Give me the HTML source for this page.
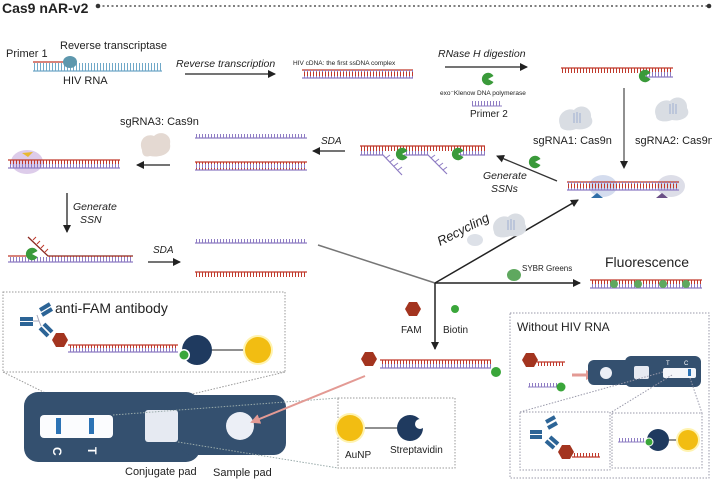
<!DOCTYPE html>
<html><head><meta charset="utf-8"><style>
html,body{margin:0;padding:0;background:#fff;}
svg{display:block;font-family:"Liberation Sans",sans-serif;}
</style></head><body>
<svg width="712" height="481" viewBox="0 0 712 481" xmlns="http://www.w3.org/2000/svg">
<defs>
<pattern id="tk" width="3" height="8" patternUnits="userSpaceOnUse">
<rect x="1" y="0" width="1" height="4" fill="#c0392b"/><rect x="1" y="4" width="1" height="4" fill="#8e7cc3"/>
</pattern>
<pattern id="tp" width="3" height="5" patternUnits="userSpaceOnUse"><rect x="1" y="0" width="1" height="5" fill="#8e7cc3"/></pattern>
<pattern id="tr" width="3" height="5" patternUnits="userSpaceOnUse"><rect x="1" y="0" width="1" height="5" fill="#c0392b"/></pattern>
<pattern id="tb" width="3" height="8" patternUnits="userSpaceOnUse"><rect x="1" y="0" width="1" height="8" fill="#6fa8c8"/></pattern>
<g id="pac"><path d="M0,0 L5.5,-3 A6.2,6.2 0 1 0 5.5,3 Z" fill="#3a9a3a"/></g>
<g id="hex"><polygon points="-8,0 -4,-7 4,-7 8,0 4,7 -4,7" fill="#a3341f"/></g>
<g id="blob"><path d="M-16,6 C-20,-4 -10,-12 -2,-9 C4,-16 16,-12 15,-2 C20,6 10,12 0,10 C-8,13 -16,11 -16,6Z" fill="#d9dde3"/><path d="M-2,-6 v10 M1,-7 v11 M4,-6 v10" stroke="#9fb0d0" stroke-width="1"/></g>
<marker id="ar" markerWidth="8" markerHeight="8" refX="7" refY="4" orient="auto" markerUnits="userSpaceOnUse"><path d="M0,0 L8,4 L0,8Z" fill="#222"/></marker>
<marker id="arp" markerWidth="10" markerHeight="10" refX="8" refY="5" orient="auto" markerUnits="userSpaceOnUse"><path d="M0,0 L10,5 L0,10Z" fill="#e39a94"/></marker>
</defs>

<!-- title -->
<text x="2" y="13" font-size="14" font-weight="bold" fill="#222">Cas9 nAR-v2</text>
<line x1="98" y1="6" x2="708" y2="6" stroke="#333" stroke-width="1.3" stroke-dasharray="2,2.5"/>
<circle cx="98" cy="6" r="2.3" fill="#333"/><circle cx="709" cy="6" r="2.3" fill="#333"/>

<!-- row 1 -->
<text x="6" y="57" font-size="11" fill="#222">Primer 1</text>
<text x="60" y="49" font-size="11" fill="#222">Reverse transcriptase</text>
<line x1="33" y1="62" x2="65" y2="62" stroke="#c0392b" stroke-width="1.3"/>
<rect x="33" y="63" width="129" height="8" fill="url(#tb)"/>
<line x1="33" y1="71" x2="162" y2="71" stroke="#6fa8c8" stroke-width="1.3"/>
<ellipse cx="70" cy="62" rx="7" ry="6" fill="#5d97ad"/>
<text x="63" y="84" font-size="11" fill="#222">HIV RNA</text>
<text x="176" y="67" font-size="10.5" font-style="italic" fill="#222">Reverse transcription</text>
<line x1="185" y1="74" x2="275" y2="74" stroke="#222" stroke-width="1.3" marker-end="url(#ar)"/>
<text x="293" y="65" font-size="6.5" fill="#222">HIV cDNA: the first ssDNA complex</text>
<g><line x1="302" y1="70" x2="413" y2="70" stroke="#c0392b" stroke-width="1.2"/><rect x="302" y="70" width="111" height="8" fill="url(#tk)"/><line x1="302" y1="78" x2="413" y2="78" stroke="#8e7cc3" stroke-width="1.2"/></g>
<text x="438" y="57" font-size="10.5" font-style="italic" fill="#222">RNase H digestion</text>
<line x1="445" y1="67" x2="527" y2="67" stroke="#222" stroke-width="1.3" marker-end="url(#ar)"/>
<use href="#pac" x="488" y="79"/>
<text x="440" y="95" font-size="6.5" fill="#222">exo⁻Klenow DNA polymerase</text>
<rect x="472" y="101" width="30" height="5" fill="url(#tp)"/><line x1="472" y1="106" x2="502" y2="106" stroke="#8e7cc3"/>
<text x="470" y="117" font-size="10" fill="#222">Primer 2</text>
<line x1="561" y1="68" x2="673" y2="68" stroke="#c0392b" stroke-width="1.2"/><rect x="561" y="68" width="112" height="5" fill="url(#tr)"/>
<rect x="640" y="72" width="33" height="5" fill="url(#tp)"/><line x1="640" y1="77" x2="673" y2="77" stroke="#8e7cc3" stroke-width="1.2"/>
<use href="#pac" x="645" y="76"/>
<line x1="624" y1="88" x2="624" y2="168" stroke="#222" stroke-width="1" marker-end="url(#ar)"/>
<use href="#blob" x="576" y="119"/><use href="#blob" x="672" y="110"/>
<text x="533" y="144" font-size="11" fill="#222">sgRNA1: Cas9n</text>
<text x="635" y="144" font-size="11" fill="#222">sgRNA2: Cas9n</text>

<!-- bound dsDNA right -->
<ellipse cx="603" cy="186" rx="14" ry="11" fill="#c9d3ea" opacity=".8"/><ellipse cx="671" cy="186" rx="14" ry="11" fill="#d4d6e2" opacity=".8"/>
<line x1="567" y1="182" x2="679" y2="182" stroke="#c0392b" stroke-width="1.2"/><rect x="567" y="182" width="112" height="8" fill="url(#tk)"/><line x1="567" y1="190" x2="679" y2="190" stroke="#8e7cc3" stroke-width="1.2"/>
<polygon points="591,198 597,193 603,198" fill="#2f6fa8"/><polygon points="656,198 662,193 668,198" fill="#6a4f86"/>
<line x1="557" y1="181" x2="497" y2="156" stroke="#333" stroke-width="1.3" marker-end="url(#ar)"/>
<text x="483" y="179" font-size="10.5" font-style="italic" fill="#222">Generate</text>
<text x="491" y="192" font-size="10.5" font-style="italic" fill="#222">SSNs</text>
<use href="#pac" x="535" y="162"/>

<!-- nicked DNA -->
<line x1="360" y1="146" x2="485" y2="146" stroke="#c0392b" stroke-width="1.2"/><rect x="360" y="146" width="125" height="5" fill="url(#tr)"/>
<rect x="360" y="151" width="23" height="4" fill="url(#tp)"/><rect x="404" y="151" width="24" height="4" fill="url(#tp)"/><rect x="460" y="151" width="25" height="4" fill="url(#tp)"/>
<path d="M360,155 H383 L402,175 M404,155 H428 L447,174 M460,155 H485" stroke="#8e7cc3" stroke-width="1.2" fill="none"/>
<path d="M386,158 l4,-3 M390,162 l4,-3 M394,166 l4,-3 M398,170 l4,-3 M431,158 l4,-3 M435,162 l4,-3 M439,166 l4,-3 M443,170 l4,-3" stroke="#8e7cc3"/>
<use href="#pac" x="402" y="154"/><use href="#pac" x="458" y="154"/>
<text x="321" y="144" font-size="10" font-style="italic" fill="#222">SDA</text>
<line x1="345" y1="151" x2="313" y2="151" stroke="#222" stroke-width="1.3" marker-end="url(#ar)"/>
<rect x="195" y="134" width="112" height="4" fill="url(#tp)"/><line x1="195" y1="138" x2="307" y2="138" stroke="#8e7cc3" stroke-width="1.2"/>
<line x1="195" y1="162" x2="307" y2="162" stroke="#c0392b" stroke-width="1.2"/><rect x="195" y="162" width="112" height="8" fill="url(#tk)"/><line x1="195" y1="170" x2="307" y2="170" stroke="#8e7cc3" stroke-width="1.2"/>
<text x="120" y="125" font-size="11" fill="#222">sgRNA3: Cas9n</text>
<g opacity=".7"><path d="M142,150 C138,140 146,133 154,136 C160,130 172,134 170,144 C172,154 160,158 150,156 C144,158 142,154 142,150Z" fill="#d8c9bf"/></g>
<line x1="170" y1="165" x2="137" y2="165" stroke="#222" stroke-width="1.3" marker-end="url(#ar)"/>
<ellipse cx="27" cy="162" rx="16" ry="12" fill="#d9c7e8" opacity=".9"/><path d="M22,153 l6,4 l5,-5" fill="#e8b830"/>
<line x1="8" y1="160" x2="120" y2="160" stroke="#c0392b" stroke-width="1.2"/><rect x="8" y="160" width="112" height="8" fill="url(#tk)"/><line x1="8" y1="168" x2="120" y2="168" stroke="#8e7cc3" stroke-width="1.2"/>
<line x1="67" y1="193" x2="67" y2="232" stroke="#222" stroke-width="1.3" marker-end="url(#ar)"/>
<text x="73" y="210" font-size="10.5" font-style="italic" fill="#222">Generate</text>
<text x="80" y="223" font-size="10.5" font-style="italic" fill="#222">SSN</text>

<!-- row SSN -->
<path d="M28,237 L48,256 H133" stroke="#8b2a22" stroke-width="1.3" fill="none"/>
<path d="M33,240 l3,-3 M37,244 l3,-3 M41,248 l3,-3 M45,252 l3,-3" stroke="#c0392b"/>
<rect x="48" y="256" width="85" height="5" fill="url(#tr)"/><rect x="8" y="257" width="125" height="5" fill="url(#tp)"/>
<line x1="8" y1="256" x2="30" y2="256" stroke="#c0392b" stroke-width="1.2"/>
<line x1="8" y1="262" x2="133" y2="262" stroke="#8e7cc3" stroke-width="1.2"/>
<use href="#pac" x="32" y="254"/>
<text x="153" y="253" font-size="10" font-style="italic" fill="#222">SDA</text>
<line x1="148" y1="262" x2="180" y2="262" stroke="#222" stroke-width="1.3" marker-end="url(#ar)"/>
<rect x="195" y="239" width="112" height="4" fill="url(#tp)"/><line x1="195" y1="243" x2="307" y2="243" stroke="#8e7cc3" stroke-width="1.2"/>
<line x1="195" y1="272" x2="307" y2="272" stroke="#c0392b" stroke-width="1.2"/><rect x="195" y="272" width="112" height="5" fill="url(#tr)"/>

<!-- hub -->
<line x1="318" y1="245" x2="435" y2="283" stroke="#555" stroke-width="1.5" opacity=".8"/>
<line x1="435" y1="283" x2="578" y2="200" stroke="#222" stroke-width="1.5" marker-end="url(#ar)"/>
<line x1="435" y1="283" x2="580" y2="283" stroke="#222" stroke-width="1.5" marker-end="url(#ar)"/>
<line x1="435" y1="283" x2="435" y2="349" stroke="#222" stroke-width="1.5" marker-end="url(#ar)"/>
<text x="0" y="0" font-size="13" font-style="italic" fill="#222" transform="translate(440,246) rotate(-27)">Recycling</text>
<use href="#blob" x="510" y="226"/><ellipse cx="475" cy="240" rx="8" ry="6" fill="#dde1e8"/>
<ellipse cx="514" cy="275" rx="7" ry="6" fill="#5fa85f"/>
<text x="522" y="271" font-size="8" fill="#222">SYBR Greens</text>
<text x="605" y="267" font-size="14" fill="#222">Fluorescence</text>
<line x1="590" y1="280" x2="702" y2="280" stroke="#c0392b" stroke-width="1.2"/><rect x="590" y="280" width="112" height="8" fill="url(#tk)"/><line x1="590" y1="288" x2="702" y2="288" stroke="#8e7cc3" stroke-width="1.2"/>
<g fill="#5fa85f"><circle cx="614" cy="284" r="4"/><circle cx="638" cy="284" r="4"/><circle cx="663" cy="284" r="4"/><circle cx="686" cy="284" r="4"/></g>
<use href="#hex" x="413" y="309"/><text x="401" y="333" font-size="10" fill="#222">FAM</text>
<circle cx="455" cy="309" r="4" fill="#3aa63a"/><text x="443" y="333" font-size="10" fill="#222">Biotin</text>
<line x1="380" y1="360" x2="491" y2="360" stroke="#c0392b" stroke-width="1.2"/><rect x="380" y="360" width="111" height="8" fill="url(#tk)"/><line x1="380" y1="368" x2="491" y2="368" stroke="#8e7cc3" stroke-width="1.2"/>
<use href="#hex" x="369" y="359"/><circle cx="496" cy="372" r="5" fill="#3aa63a"/>

<!-- anti-FAM box -->
<rect x="3" y="292" width="282" height="80" fill="none" stroke="#999" stroke-dasharray="1.5,1.5"/>
<text x="55" y="313" font-size="14" fill="#222">anti-FAM antibody</text>
<g stroke="#2c6496" stroke-width="4" fill="none"><path d="M20,319 h13 M20,324 h13 M40,310 l10,-6 M42,315 l10,-6 M40,328 l8,8 M44,324 l8,8"/></g>
<path d="M33,321 h6 l-2,-6 M39,321 l2,5" stroke="#aab" fill="none"/>
<use href="#hex" x="60" y="340"/>
<line x1="68" y1="345" x2="178" y2="345" stroke="#c0392b" stroke-width="1.2"/><rect x="68" y="345" width="110" height="7" fill="url(#tk)"/><line x1="68" y1="352" x2="178" y2="352" stroke="#8e7cc3" stroke-width="1.2"/>
<line x1="210" y1="350" x2="245" y2="350" stroke="#222"/>
<circle cx="197" cy="350" r="15" fill="#1f3a5f"/><circle cx="184" cy="355" r="6" fill="#fff"/><circle cx="184" cy="355" r="4.5" fill="#3aa63a"/>
<circle cx="258" cy="350" r="15" fill="#fff3b0"/><circle cx="258" cy="350" r="13" fill="#f2bd12"/>
<g stroke="#999" stroke-dasharray="1.5,1.5"><line x1="3" y1="372" x2="88" y2="414"/><line x1="285" y1="372" x2="108" y2="414"/></g>

<!-- strip -->
<rect x="24" y="392" width="176" height="70" rx="14" fill="#34506f"/>
<rect x="180" y="395" width="106" height="60" rx="12" fill="#34506f"/>
<rect x="40" y="415" width="73" height="23" rx="4" fill="#fbfcfe"/>
<rect x="56" y="418" width="5" height="16" fill="#2c73b5"/><rect x="89" y="418" width="5" height="16" fill="#2c73b5"/>
<text x="0" y="0" font-size="12" font-weight="bold" fill="#fff" transform="translate(53,447) rotate(90)">C</text>
<text x="0" y="0" font-size="12" font-weight="bold" fill="#fff" transform="translate(88,447) rotate(90)">T</text>
<rect x="145" y="410" width="33" height="32" rx="3" fill="#e6eaf2"/>
<circle cx="240" cy="426" r="14" fill="#eceff6"/>
<g stroke="#9aa" stroke-dasharray="1.5,1.5"><line x1="113" y1="415" x2="338" y2="398"/><line x1="178" y1="442" x2="338" y2="468"/></g>
<text x="125" y="475" font-size="11" fill="#222">Conjugate pad</text>
<text x="213" y="476" font-size="11" fill="#222">Sample pad</text>
<line x1="365" y1="376" x2="252" y2="422" stroke="#e39a94" stroke-width="2" marker-end="url(#arp)"/>

<!-- AuNP box -->
<rect x="338" y="398" width="117" height="70" fill="none" stroke="#999" stroke-dasharray="1.5,1.5"/>
<line x1="360" y1="428" x2="400" y2="428" stroke="#222"/>
<circle cx="350" cy="428" r="15" fill="#fff3b0"/><circle cx="350" cy="428" r="13" fill="#f2bd12"/>
<circle cx="410" cy="428" r="13" fill="#1f3a5f"/><circle cx="420" cy="424" r="5" fill="#fff"/>
<text x="345" y="458" font-size="10" fill="#222">AuNP</text>
<text x="390" y="453" font-size="10" fill="#222">Streptavidin</text>

<!-- Without HIV RNA -->
<rect x="510" y="313" width="199" height="165" fill="none" stroke="#99a" stroke-dasharray="1.5,1.5"/>
<text x="517" y="331" font-size="12" fill="#222">Without HIV RNA</text>
<use href="#hex" x="530" y="360" transform="scale(1)"/>
<line x1="537" y1="362" x2="565" y2="362" stroke="#c0392b" stroke-width="1.2"/><rect x="537" y="362" width="28" height="4" fill="url(#tr)"/>
<rect x="528" y="383" width="30" height="4" fill="url(#tp)"/><line x1="528" y1="387" x2="558" y2="387" stroke="#8e7cc3"/>
<circle cx="561" cy="387" r="4.5" fill="#3aa63a"/>
<line x1="572" y1="375" x2="594" y2="375" stroke="#e39a94" stroke-width="3" marker-end="url(#arp)"/>
<rect x="588" y="360" width="60" height="25" rx="6" fill="#34506f"/><rect x="625" y="356" width="76" height="31" rx="6" fill="#34506f"/>
<circle cx="606" cy="373" r="6" fill="#eceff6"/><rect x="634" y="366" width="15" height="13" rx="2" fill="#e6eaf2"/>
<rect x="663" y="368" width="33" height="10" rx="2" fill="#f4f6fa"/><rect x="688" y="369" width="3" height="7" fill="#2c73b5"/>
<text x="666" y="365" font-size="6" fill="#fff">T</text><text x="684" y="365" font-size="6" fill="#fff">C</text>
<g stroke="#99a" stroke-dasharray="1.5,1.5"><line x1="663" y1="372" x2="520" y2="412"/><line x1="672" y1="375" x2="610" y2="413"/><line x1="690" y1="378" x2="702" y2="413"/></g>
<rect x="520" y="412" width="90" height="58" fill="none" stroke="#99a" stroke-dasharray="1.5,1.5"/>
<rect x="612" y="413" width="90" height="55" fill="none" stroke="#99a" stroke-dasharray="1.5,1.5"/>
<g stroke="#2c6496" stroke-width="4" fill="none"><path d="M530,432 h12 M530,437 h12 M546,422 l9,-5 M548,428 l9,-5 M546,441 l8,7 M550,437 l8,7"/></g>
<use href="#hex" x="566" y="452"/>
<line x1="572" y1="457" x2="600" y2="457" stroke="#c0392b" stroke-width="1.2"/><rect x="572" y="453" width="28" height="4" fill="url(#tr)"/>
<rect x="618" y="438" width="28" height="4" fill="url(#tp)"/><line x1="618" y1="442" x2="646" y2="442" stroke="#8e7cc3"/>
<line x1="660" y1="440" x2="683" y2="440" stroke="#222"/>
<circle cx="658" cy="440" r="11" fill="#1f3a5f"/><circle cx="649" cy="442" r="4" fill="#3aa63a" stroke="#fff"/>
<circle cx="688" cy="440" r="12" fill="#fff3b0"/><circle cx="688" cy="440" r="10" fill="#f2bd12"/>
</svg>
</body></html>
